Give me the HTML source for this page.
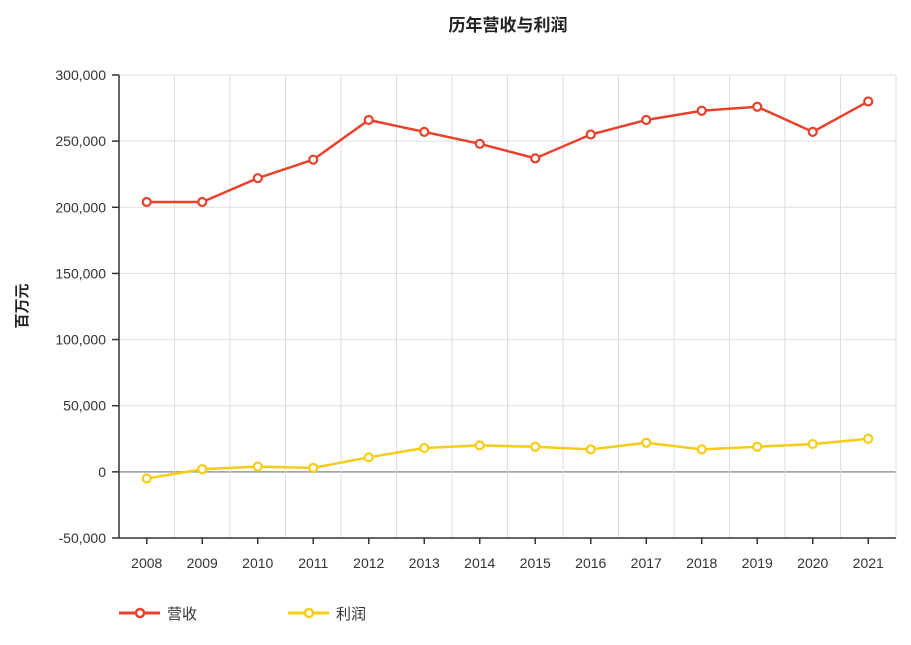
<!DOCTYPE html>
<html><head><meta charset="utf-8">
<style>
body{margin:0;background:#fff;font-family:"Liberation Sans","Noto Sans CJK SC",sans-serif;}
svg text{font-family:"Liberation Sans","Noto Sans CJK SC",sans-serif;}
</style></head>
<body>
<svg id="chart" width="911" height="640" xmlns="http://www.w3.org/2000/svg">
<text x="508" y="31" text-anchor="middle" font-size="17" font-weight="bold" fill="#222">历年营收与利润</text>
<text transform="translate(27,306) rotate(-90)" text-anchor="middle" font-size="15" font-weight="bold" fill="#222">百万元</text>
<g id="grid"></g><g id="axes"></g><g id="series"></g>
<g>
<g>
<line x1="119" y1="613" x2="160" y2="613" stroke="#e8412c" stroke-width="3"/>
<circle cx="140" cy="613" r="4" fill="#fff" stroke="#e8412c" stroke-width="2.5"/>
<text x="167" y="619" font-size="15" fill="#333">营收</text></g>
<g>
<line x1="288" y1="613" x2="329" y2="613" stroke="#f7cc15" stroke-width="3"/>
<circle cx="309" cy="613" r="4" fill="#fff" stroke="#f7cc15" stroke-width="2.5"/>
<text x="336" y="619" font-size="15" fill="#333">利润</text></g>
</g>
</svg>
<script>
const categories=["2008","2009","2010","2011","2012","2013","2014","2015","2016","2017","2018","2019","2020","2021"];
const revenue=[204000,204000,222000,236000,266000,257000,248000,237000,255000,266000,273000,276000,257000,280000];
const profit=[-5000,2000,4000,3000,11000,18000,20000,19000,17000,22000,17000,19000,21000,25000];
const yTicks=[-50000,0,50000,100000,150000,200000,250000,300000];
const NS="http://www.w3.org/2000/svg";
const L=119,R=896,T=75,B=538,yMin=-50000,yMax=300000;
const step=(R-L)/categories.length;
const x=i=>L+step*(i+0.5);
const y=v=>B-(v-yMin)/(yMax-yMin)*(B-T);
function mk(tag,attrs,parent){const e=document.createElementNS(NS,tag);for(const k in attrs)e.setAttribute(k,attrs[k]);parent.appendChild(e);return e;}
const grid=document.getElementById('grid'),axes=document.getElementById('axes'),series=document.getElementById('series');
yTicks.forEach(v=>{
  const g=mk('line',{x1:L,x2:R,y1:y(v),y2:y(v),stroke:v===0?'#999':'#ddd','stroke-width':v===0?1.5:1},grid);
  
  
  mk('line',{x1:L-7,x2:L,y1:y(v),y2:y(v),stroke:'#333','stroke-width':1.5},axes);
  const t=mk('text',{x:L-13,y:y(v)+5,'text-anchor':'end','font-size':14,fill:'#333'},axes);
  t.textContent=v.toLocaleString('en-US');
  
  
});
for(let i=1;i<=categories.length;i++){
  const g=mk('line',{x1:L+step*i,x2:L+step*i,y1:T,y2:B,stroke:'#ddd','stroke-width':1},grid);
  
  
}
mk('line',{x1:L,x2:L,y1:T,y2:B,stroke:'#333','stroke-width':1.5},axes);
mk('line',{x1:L,x2:R,y1:B,y2:B,stroke:'#333','stroke-width':1.5},axes);
categories.forEach((c,i)=>{
  mk('line',{x1:x(i),x2:x(i),y1:B,y2:B+6,stroke:'#333','stroke-width':1.5},axes);
  const t=mk('text',{x:x(i),y:B+30,'text-anchor':'middle','font-size':14,fill:'#333'},axes);
  t.textContent=c;
  
  
});
function draw(data,color,name){
  const p=mk('polyline',{points:data.map((v,i)=>x(i)+','+y(v)).join(' '),fill:'none',stroke:color,'stroke-width':2.5},series);
  
  
  data.forEach((v,i)=>{
    const c=mk('circle',{cx:x(i),cy:y(v),r:4,fill:'#fff',stroke:color,'stroke-width':2.2},series);
    
    
  });
}
draw(revenue,'#e8412c','revenue');
draw(profit,'#f7cc15','profit');
</script>
</body></html>
